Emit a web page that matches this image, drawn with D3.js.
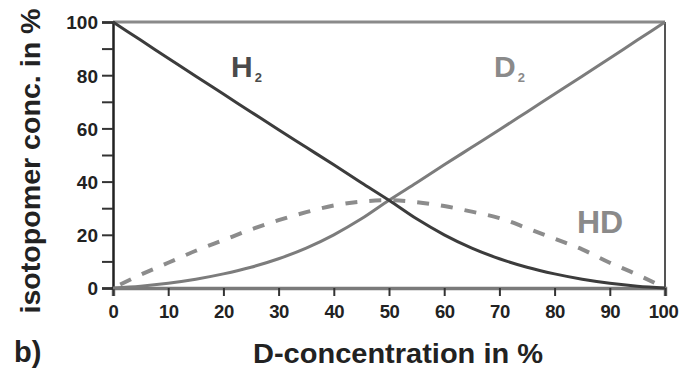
<!DOCTYPE html>
<html>
<head>
<meta charset="utf-8">
<script src="https://cdn.jsdelivr.net/npm/d3@7"></script>
<style>
  html, body { margin: 0; padding: 0; background: #fff; }
  svg { display: block; }
  text { font-family: Arial, "Liberation Sans", Helvetica, sans-serif; font-weight: bold; }
</style>
</head>
<body>
<svg id="chart" width="679" height="370"></svg>
<script>
// D-concentration (%) sampled every 5 %
const dConc = [0, 5, 10, 15, 20, 25, 30, 35, 40, 45, 50, 55, 60, 65, 70, 75, 80, 85, 90, 95, 100];
// isotopomer concentrations (%)
const h2 = [100, 93.2, 86.4, 79.6, 72.9, 66.2, 59.5, 52.9, 46.3, 39.6, 33, 26, 20, 15, 11, 7.8, 5.3, 3.3, 1.8, 0.7, 0];
const d2 = [0, 0.7, 1.8, 3.3, 5.3, 7.8, 11, 15, 20, 26, 33, 39.6, 46.3, 52.9, 59.5, 66.2, 72.9, 79.6, 86.4, 93.2, 100];
const hd = [0, 5, 9.5, 14, 18, 22, 25.5, 28.5, 31, 32.5, 33, 32.3, 30.8, 28.7, 26.3, 22.5, 18.5, 14.5, 9.5, 5, 0];
const xTicks = [0, 10, 20, 30, 40, 50, 60, 70, 80, 90, 100];
const yTicks = [0, 10, 20, 30, 40, 50, 60, 70, 80, 90, 100];

const svg = d3.select("#chart");
const x = d3.scaleLinear().domain([0, 100]).range([113, 665]);
const y = d3.scaleLinear().domain([0, 100]).range([288, 22]);

// frame: top and right edges
svg.append("line").attr("x1", x(0)).attr("x2", x(100)).attr("y1", y(100)).attr("y2", y(100))
  .attr("stroke", "#8a8a8a").attr("stroke-width", 3);
svg.append("line").attr("x1", x(100)).attr("x2", x(100)).attr("y1", y(100)).attr("y2", y(0))
  .attr("stroke", "#555").attr("stroke-width", 2);

// axes
const xAxis = svg.append("g").attr("transform", `translate(0,${y(0)})`)
  .call(d3.axisBottom(x).tickValues(xTicks).tickSize(8).tickPadding(9).tickFormat(d3.format("d")));
xAxis.select(".domain").attr("stroke", "#7a7a7a").attr("stroke-width", 3.5);
xAxis.selectAll(".tick line").attr("stroke", "#333").attr("stroke-width", 2);
xAxis.selectAll(".tick text").attr("font-size", 18.5).attr("fill", "#222").attr("letter-spacing", -0.5);
// keep the last label inside the page edge
xAxis.selectAll(".tick text").filter(d => d === 100).attr("dx", -2);

const yAxis = svg.append("g").attr("transform", `translate(${x(0)},0)`)
  .call(d3.axisLeft(y).tickValues(yTicks).tickSize(11).tickPadding(4)
    .tickFormat(d => d % 20 === 0 ? d : ""));
yAxis.select(".domain").attr("stroke", "#222").attr("stroke-width", 2.5);
yAxis.selectAll(".tick line").attr("stroke", "#333").attr("stroke-width", 2);
yAxis.selectAll(".tick text").attr("font-size", 19).attr("fill", "#222").attr("dy", "0.36em");

// curves
const line = vals => d3.line()
  .x((d, i) => x(dConc[i]))
  .y(d => y(d))
  .curve(d3.curveMonotoneX)(vals);

svg.append("path").attr("d", line(hd)).attr("fill", "none")
  .attr("stroke", "#8c8c8c").attr("stroke-width", 4).attr("stroke-dasharray", "12,12")
  .attr("stroke-dashoffset", -8);
svg.append("path").attr("d", line(d2)).attr("fill", "none")
  .attr("stroke", "#7c7c7c").attr("stroke-width", 3);
svg.append("path").attr("d", line(h2)).attr("fill", "none")
  .attr("stroke", "#3c3c3c").attr("stroke-width", 3);

// curve labels
function label(tx, ty, main, sub, color, size) {
  const t = svg.append("text").attr("x", tx).attr("y", ty).attr("fill", color).attr("font-size", size);
  t.append("tspan").text(main);
  if (sub) t.append("tspan").attr("font-size", 13).attr("dx", 2).attr("dy", 5).text(sub);
}
label(231, 77, "H", "2", "#4a4a4a", 30);
label(494, 77, "D", "2", "#8a8a8a", 30);
label(577, 233, "HD", null, "#8a8a8a", 32);

// axis titles
svg.append("text").attr("x", 398).attr("y", 363).attr("text-anchor", "middle")
  .attr("font-size", 27).attr("fill", "#222")
  .attr("textLength", 290).attr("lengthAdjust", "spacingAndGlyphs").text("D-concentration in %");
svg.append("text").attr("transform", "translate(40,161) rotate(-90)").attr("text-anchor", "middle")
  .attr("font-size", 27).attr("fill", "#222")
  .attr("textLength", 305).attr("lengthAdjust", "spacingAndGlyphs").text("isotopomer conc. in %");
svg.append("text").attr("x", 14).attr("y", 362).attr("font-size", 29).attr("fill", "#222").text("b)");
</script>
</body>
</html>
